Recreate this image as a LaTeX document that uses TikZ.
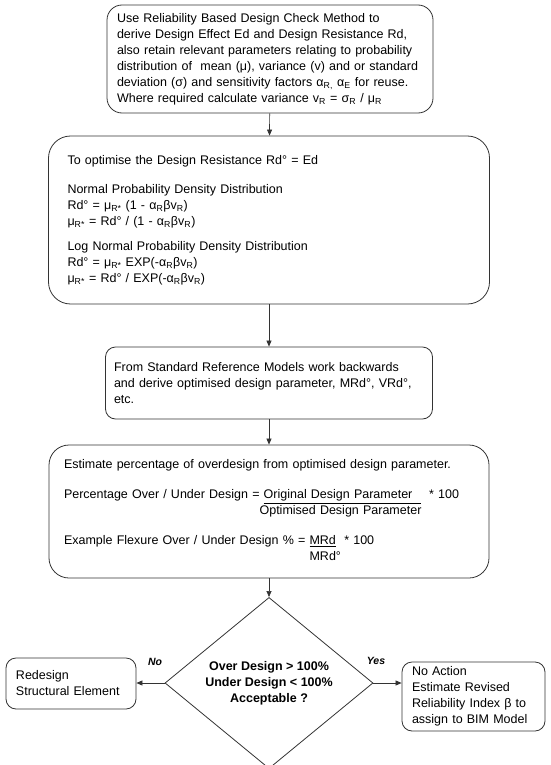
\documentclass[tikz,border=0pt]{standalone}
\usepackage{fontspec}
\setmainfont{Liberation Sans}
\usetikzlibrary{shapes.geometric,arrows.meta}

\newcommand{\lo}[1]{\textsubscript{#1}}

\begin{document}
\begin{tikzpicture}[x=1pt,y=-1pt,
	every node/.style={font=\fontsize{12.5}{16}\selectfont},
	flowbox/.style={draw=black!80,line width=0.8pt,align=left,inner sep=0pt},
	flowarrow/.style={draw=black!80,line width=0.7pt,-{Triangle[length=6pt,width=5pt]}},
	branchlabel/.style={font=\fontsize{10.5}{12}\selectfont\bfseries\itshape}]
				\useasboundingbox (0,0) rectangle (550,765);
				% main column
				\node[flowbox,rounded corners=15pt,minimum width=326pt,minimum height=108pt,text width=306pt] (check) at (270,59)
					{Use Reliability Based Design Check Method to\\
					derive Design Effect Ed and Design Resistance Rd,\\
					also retain relevant parameters relating to probability\\
					distribution of\ \ mean (μ), variance (v) and or standard\\
					deviation (σ) and sensitivity factors α\lo{R,} α\lo{E} for reuse.\\
					Where required calculate variance v\lo{R} = σ\lo{R} / μ\lo{R}};
				\node[flowbox,rounded corners=22pt,minimum width=441pt,minimum height=168pt,text width=403pt] (optimise) at (269,220)
					{To optimise the Design Resistance Rd° = Ed\\[13pt]
					Normal Probability Density Distribution\\
					Rd° = μ\lo{R*} (1 - α\lo{R}βv\lo{R})\\
					μ\lo{R*} = Rd° / (1 - α\lo{R}βv\lo{R})\\[9pt]
					Log Normal Probability Density Distribution\\
					Rd° = μ\lo{R*} EXP(-α\lo{R}βv\lo{R})\\
					μ\lo{R*} = Rd° / EXP(-α\lo{R}βv\lo{R})};
				\node[flowbox,rounded corners=10pt,minimum width=327pt,minimum height=72pt,text width=310pt] (models) at (269,383)
					{From Standard Reference Models work backwards\\
					and derive optimised design parameter, MRd°, VRd°,\\
					etc.};
				\node[flowbox,rounded corners=20pt,minimum width=440pt,minimum height=133pt,text width=410pt] (estimate) at (269,511.5)
					{Estimate percentage of overdesign from optimised design parameter.\\[14pt]
					Percentage Over / Under Design = \underline{Original Design Parameter\ \ }\ \ * 100\\
					\phantom{Percentage Over / Under Design =}Optimised Design Parameter\\[14pt]
					Example\ Flexure Over / Under Design \% = \underline{MRd}\ \ * 100\\
					\phantom{Example\ Flexure Over / Under Design \% = }MRd°};
				\node[flowbox,diamond,align=center,minimum width=208pt,minimum height=150pt,font=\fontsize{12.5}{16}\selectfont\bfseries] (accept) at (269,683)
					{Over Design > 100\%\\ Under Design < 100\%\\ Acceptable ?};
				% outcomes
				\node[flowbox,rounded corners=10pt,minimum width=130pt,minimum height=51pt,text width=110pt] (redesign) at (71,683.5)
					{Redesign\\ Structural Element};
				\node[flowbox,rounded corners=10pt,minimum width=143pt,minimum height=69pt,text width=123pt] (noaction) at (473.5,696.5)
					{No Action\\ Estimate Revised\\ Reliability Index β to\\ assign to BIM Model};
				\node[branchlabel] (no) at (155,662) {No};
				\node[branchlabel] (yes) at (376,661) {Yes};
				% connectors
				\draw[flowarrow] (check) -- (optimise);
				\draw[flowarrow] (optimise) -- (models);
				\draw[flowarrow] (models) -- (estimate);
				\draw[flowarrow] (estimate) -- (accept);
				\draw[flowarrow] (accept.west) -- (redesign.east |- accept.west);
				\draw[flowarrow] (accept.east) -- (noaction.west |- accept.east);
			\end{tikzpicture}
\end{document}
